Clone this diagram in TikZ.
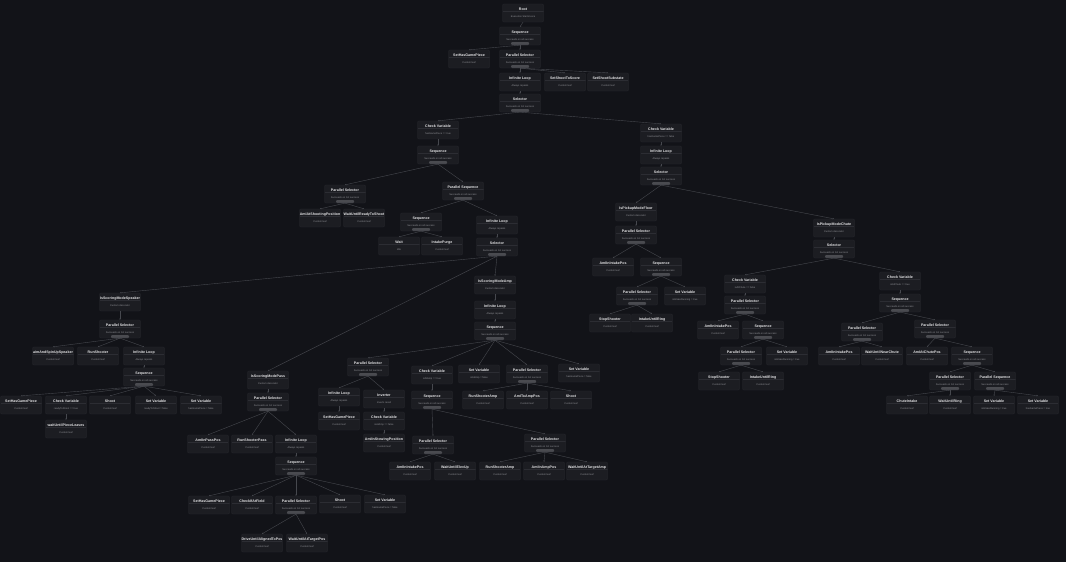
\documentclass[tikz,border=0pt]{standalone}
\usepackage{fontspec}
\setmainfont{Liberation Sans}
\usetikzlibrary{arrows.meta}
\definecolor{bgc}{HTML}{121318}
\definecolor{nodefill}{HTML}{1C1D22}
\definecolor{nodeline}{HTML}{2A2B31}
\definecolor{divc}{HTML}{2C2D33}
\definecolor{titlec}{HTML}{E4E4E6}
\definecolor{subc}{HTML}{8E8F94}
\definecolor{barc}{HTML}{4A4B50}
\definecolor{edgec}{HTML}{46484E}
\newcommand{\btsub}{\fontsize{2.5}{3}\selectfont\mdseries\color{subc}}
\tikzset{
  leaf/.style={draw=nodeline, fill=nodefill, rounded corners=1pt, line width=0.3pt,
    minimum width=41pt, minimum height=18pt, inner sep=0pt, align=center,
    text=titlec, font=\fontsize{3.6}{4}\selectfont\bfseries,
    path picture={\draw[divc, line width=0.3pt]
      ([yshift=-7.6pt]path picture bounding box.north west) -- ([yshift=-7.6pt]path picture bounding box.north east);}},
  comp/.style={leaf,
    path picture={\draw[divc, line width=0.3pt]
      ([yshift=-7.6pt]path picture bounding box.north west) -- ([yshift=-7.6pt]path picture bounding box.north east);
      \fill[barc] ([xshift=-9pt]path picture bounding box.south) rectangle ([xshift=9pt, yshift=3pt]path picture bounding box.south);}},
  edge/.style={draw=edgec, line width=0.4pt, -{Stealth[length=1.4pt, width=1.4pt]}}
}
\begin{document}
\begin{tikzpicture}[x=1pt, y=-1pt]
  \fill[bgc] (0,0) rectangle (1066,562);
  \useasboundingbox (0,0) rectangle (1066,562);

  % Root and top of the tree
  \node[leaf] (root) at (523,13) {Root\\[3pt]{\btsub Execution Starts Here}};
  \node[comp] (seqA) at (520,36) {Sequence\\[3pt]{\btsub Succeeds on all success}};
  \node[leaf] (setHasA) at (469,59) {SetHasGamePiece\\[3pt]{\btsub Custom leaf}};
  \node[comp] (parSelA) at (520,59) {Parallel Selector\\[3pt]{\btsub Succeeds on 1st success}};
  \node[leaf] (loopA) at (520,82) {Infinite Loop\\[3pt]{\btsub Always repeats}};
  \node[leaf] (setShootA) at (565,82) {SetShootToScore\\[3pt]{\btsub Custom leaf}};
  \node[leaf] (setSubA) at (608,82) {SetShootSubstate\\[3pt]{\btsub Custom leaf}};
  \node[comp] (selA) at (520,103) {Selector\\[3pt]{\btsub Succeeds on 1st success}};

  % Holding a game piece
  \node[leaf] (chkHave) at (438,130) {Check Variable\\[3pt]{\btsub hasGamePiece == true}};
  \node[comp] (seqHave) at (438,155) {Sequence\\[3pt]{\btsub Succeeds on all success}};
  \node[comp] (parSelShoot) at (345,194) {Parallel Selector\\[3pt]{\btsub Succeeds on 1st success}};
  \node[leaf] (aimShoot) at (320,218) {AmIAtShootingPosition\\[3pt]{\btsub Custom leaf}};
  \node[leaf] (waitShoot) at (364,218) {WaitUntilReadyToShoot\\[3pt]{\btsub Custom leaf}};
  \node[comp] (parSeqB) at (463,191) {Parallel Sequence\\[3pt]{\btsub Succeeds on all success}};
  \node[comp] (seqWait) at (421,222) {Sequence\\[3pt]{\btsub Succeeds on all success}};
  \node[leaf] (wait) at (399,246) {Wait\\[3pt]{\btsub Idle}};
  \node[leaf] (purge) at (442,246) {IntakePurge\\[3pt]{\btsub Custom leaf}};
  \node[leaf] (loopB) at (497,225) {Infinite Loop\\[3pt]{\btsub Always repeats}};
  \node[comp] (selB) at (497,247) {Selector\\[3pt]{\btsub Succeeds on 1st success}};

  % Scoring mode: speaker
  \node[leaf] (modeSpeaker) at (120,302) {IsScoringModeSpeaker\\[3pt]{\btsub Custom decorator}};
  \node[comp] (parSelSp) at (120,329) {Parallel Selector\\[3pt]{\btsub Succeeds on 1st success}};
  \node[leaf] (aimSp) at (53,356) {aimAndSpinUpSpeaker\\[3pt]{\btsub Custom leaf}};
  \node[leaf] (runSp) at (98,356) {RunShooter\\[3pt]{\btsub Custom leaf}};
  \node[leaf] (loopSp) at (144,356) {Infinite Loop\\[3pt]{\btsub Always repeats}};
  \node[comp] (seqSp) at (144,377) {Sequence\\[3pt]{\btsub Succeeds on all success}};
  \node[leaf] (setHasSp) at (21,405) {SetHasGamePiece\\[3pt]{\btsub Custom leaf}};
  \node[leaf] (chkSp) at (66,405) {Check Variable\\[3pt]{\btsub readyToShoot == true}};
  \node[leaf] (shootSp) at (110,405) {Shoot\\[3pt]{\btsub Custom leaf}};
  \node[leaf] (setVarSp1) at (156,405) {Set Variable\\[3pt]{\btsub readyToShoot = false}};
  \node[leaf] (setVarSp2) at (201,405) {Set Variable\\[3pt]{\btsub hasGamePiece = false}};
  \node[leaf] (waitSp) at (66,429) {waitUntilPieceLeaves\\[3pt]{\btsub Custom leaf}};

  % Scoring mode: pass
  \node[leaf] (modePass) at (268,380) {IsScoringModePass\\[3pt]{\btsub Custom decorator}};
  \node[comp] (parSelPass) at (268,402) {Parallel Selector\\[3pt]{\btsub Succeeds on 1st success}};
  \node[leaf] (passPos) at (208,444) {AmIInPassPos\\[3pt]{\btsub Custom leaf}};
  \node[leaf] (runPass) at (252,444) {RunShooterPass\\[3pt]{\btsub Custom leaf}};
  \node[leaf] (loopPass) at (296,444) {Infinite Loop\\[3pt]{\btsub Always repeats}};
  \node[comp] (seqPass) at (296,466) {Sequence\\[3pt]{\btsub Succeeds on all success}};
  \node[leaf] (setHasPass) at (209,505) {SetHasGamePiece\\[3pt]{\btsub Custom leaf}};
  \node[leaf] (chkField) at (252,505) {CheckIfAtField\\[3pt]{\btsub Custom leaf}};
  \node[comp] (parSelPass2) at (296,505) {Parallel Selector\\[3pt]{\btsub Succeeds on 1st success}};
  \node[leaf] (shootPass) at (340,504) {Shoot\\[3pt]{\btsub Custom leaf}};
  \node[leaf] (setVarPass) at (385,504) {Set Variable\\[3pt]{\btsub hasGamePiece = false}};
  \node[leaf] (driveAlign) at (262,543) {DriveUntilAlignedToPos\\[3pt]{\btsub Custom leaf}};
  \node[leaf] (waitTarget) at (307,543) {WaitUntilAtTargetPos\\[3pt]{\btsub Custom leaf}};

  % Scoring mode: amp
  \node[leaf] (modeAmp) at (495,285) {IsScoringModeAmp\\[3pt]{\btsub Custom decorator}};
  \node[leaf] (loopAmp) at (495,310) {Infinite Loop\\[3pt]{\btsub Always repeats}};
  \node[comp] (seqAmp) at (495,331) {Sequence\\[3pt]{\btsub Succeeds on all success}};
  \node[comp] (parSelAmp1) at (368,367) {Parallel Selector\\[3pt]{\btsub Succeeds on 1st success}};
  \node[leaf] (loopAmp2) at (339,397) {Infinite Loop\\[3pt]{\btsub Always repeats}};
  \node[leaf] (invAmp) at (384,399) {Inverter\\[3pt]{\btsub Inverts result}};
  \node[leaf] (setHasAmp) at (339,421) {SetHasGamePiece\\[3pt]{\btsub Custom leaf}};
  \node[leaf] (chkAmp1) at (384,421) {Check Variable\\[3pt]{\btsub isAtAmp == false}};
  \node[leaf] (stowAmp) at (384,443) {AmIInStowingPosition\\[3pt]{\btsub Custom leaf}};
  \node[leaf] (chkAmp2) at (432,375) {Check Variable\\[3pt]{\btsub isAtAmp == true}};
  \node[comp] (seqAmp2) at (432,400) {Sequence\\[3pt]{\btsub Succeeds on all success}};
  \node[comp] (parSelAmp2) at (433,445) {Parallel Selector\\[3pt]{\btsub Succeeds on 1st success}};
  \node[leaf] (intakePosAmp) at (410,471) {AmIInIntakePos\\[3pt]{\btsub Custom leaf}};
  \node[leaf] (waitElev) at (455,471) {WaitUntilElevUp\\[3pt]{\btsub Custom leaf}};
  \node[comp] (parSelAmp3) at (545,443) {Parallel Selector\\[3pt]{\btsub Succeeds on 1st success}};
  \node[leaf] (runAmp) at (500,471) {RunShooterAmp\\[3pt]{\btsub Custom leaf}};
  \node[leaf] (ampPos) at (544,471) {AmIInAmpPos\\[3pt]{\btsub Custom leaf}};
  \node[leaf] (waitAmp) at (587,471) {WaitUntilAtTargetAmp\\[3pt]{\btsub Custom leaf}};
  \node[leaf] (setVarAmp1) at (479,374) {Set Variable\\[3pt]{\btsub isAtAmp = false}};
  \node[comp] (parSelAmp4) at (527,374) {Parallel Selector\\[3pt]{\btsub Succeeds on 1st success}};
  \node[leaf] (runAmp2) at (483,400) {RunShooterAmp\\[3pt]{\btsub Custom leaf}};
  \node[leaf] (ampPos2) at (527,400) {AmIToAmpPos\\[3pt]{\btsub Custom leaf}};
  \node[leaf] (shootAmp) at (571,400) {Shoot\\[3pt]{\btsub Custom leaf}};
  \node[leaf] (setVarAmp2) at (579,373) {Set Variable\\[3pt]{\btsub hasGamePiece = false}};

  % No game piece: pickup
  \node[leaf] (chkNone) at (661,133) {Check Variable\\[3pt]{\btsub hasGamePiece == false}};
  \node[leaf] (loopC) at (661,155) {Infinite Loop\\[3pt]{\btsub Always repeats}};
  \node[comp] (selC) at (661,176) {Selector\\[3pt]{\btsub Succeeds on 1st success}};
  \node[leaf] (modeFloor) at (636,212) {IsPickupModeFloor\\[3pt]{\btsub Custom decorator}};
  \node[comp] (parSelFloor) at (636,235) {Parallel Selector\\[3pt]{\btsub Succeeds on 1st success}};
  \node[leaf] (intakePosF) at (613,267) {AmIInIntakePos\\[3pt]{\btsub Custom leaf}};
  \node[comp] (seqFloor) at (661,267) {Sequence\\[3pt]{\btsub Succeeds on all success}};
  \node[comp] (parSelF2) at (637,296) {Parallel Selector\\[3pt]{\btsub Succeeds on 1st success}};
  \node[leaf] (setVarF) at (685,296) {Set Variable\\[3pt]{\btsub isIntakeRunning = true}};
  \node[leaf] (stopF) at (610,323) {StopShooter\\[3pt]{\btsub Custom leaf}};
  \node[leaf] (intakeF) at (652,323) {IntakeUntilRing\\[3pt]{\btsub Custom leaf}};

  \node[leaf] (modeChute) at (834,228) {IsPickupModeChute\\[3pt]{\btsub Custom decorator}};
  \node[comp] (selChute) at (834,249) {Selector\\[3pt]{\btsub Succeeds on 1st success}};
  \node[leaf] (chkNotAt) at (745,284) {Check Variable\\[3pt]{\btsub isAtChute == false}};
  \node[comp] (parSelC1) at (745,305) {Parallel Selector\\[3pt]{\btsub Succeeds on 1st success}};
  \node[leaf] (intakePosC) at (718,330) {AmIInIntakePos\\[3pt]{\btsub Custom leaf}};
  \node[comp] (seqC1) at (763,330) {Sequence\\[3pt]{\btsub Succeeds on all success}};
  \node[comp] (parSelC2) at (741,356) {Parallel Selector\\[3pt]{\btsub Succeeds on 1st success}};
  \node[leaf] (setVarC) at (787,356) {Set Variable\\[3pt]{\btsub isIntakeRunning = true}};
  \node[leaf] (stopC) at (719,381) {StopShooter\\[3pt]{\btsub Custom leaf}};
  \node[leaf] (intakeC) at (763,381) {IntakeUntilRing\\[3pt]{\btsub Custom leaf}};
  \node[leaf] (chkAt) at (900,281) {Check Variable\\[3pt]{\btsub isAtChute == true}};
  \node[comp] (seqChute) at (900,303) {Sequence\\[3pt]{\btsub Succeeds on all success}};
  \node[comp] (parSelC3) at (862,332) {Parallel Selector\\[3pt]{\btsub Succeeds on 1st success}};
  \node[comp] (parSelC4) at (935,329) {Parallel Selector\\[3pt]{\btsub Succeeds on 1st success}};
  \node[leaf] (intakePosC2) at (839,356) {AmIInIntakePos\\[3pt]{\btsub Custom leaf}};
  \node[leaf] (waitChute) at (882,356) {WaitUntilNearChute\\[3pt]{\btsub Custom leaf}};
  \node[leaf] (chutePos) at (927,356) {AmIAtChutePos\\[3pt]{\btsub Custom leaf}};
  \node[comp] (seqC2) at (972,356) {Sequence\\[3pt]{\btsub Succeeds on all success}};
  \node[comp] (parSelC5) at (950,381) {Parallel Selector\\[3pt]{\btsub Succeeds on 1st success}};
  \node[comp] (parSeqC) at (995,381) {Parallel Sequence\\[3pt]{\btsub Succeeds on all success}};
  \node[leaf] (chuteIntake) at (907,405) {ChuteIntake\\[3pt]{\btsub Custom leaf}};
  \node[leaf] (waitRing) at (950,405) {WaitUntilRing\\[3pt]{\btsub Custom leaf}};
  \node[leaf] (setVarC2) at (994,405) {Set Variable\\[3pt]{\btsub isIntakeRunning = true}};
  \node[leaf] (setVarC3) at (1038,405) {Set Variable\\[3pt]{\btsub hasGamePiece = true}};

  % Connectors
  \draw[edge] (root.south) -- (seqA.north);
  \draw[edge] (seqA.south) -- (setHasA.north);
  \draw[edge] (seqA.south) -- (parSelA.north);
  \draw[edge] (parSelA.south) -- (loopA.north);
  \draw[edge] (parSelA.south) -- (setShootA.north);
  \draw[edge] (parSelA.south) -- (setSubA.north);
  \draw[edge] (loopA.south) -- (selA.north);
  \draw[edge] (selA.south) -- (chkHave.north);
  \draw[edge] (selA.south) -- (chkNone.north);

  \draw[edge] (chkHave.south) -- (seqHave.north);
  \draw[edge] (seqHave.south) -- (parSelShoot.north);
  \draw[edge] (seqHave.south) -- (parSeqB.north);
  \draw[edge] (parSelShoot.south) -- (aimShoot.north);
  \draw[edge] (parSelShoot.south) -- (waitShoot.north);
  \draw[edge] (parSeqB.south) -- (seqWait.north);
  \draw[edge] (parSeqB.south) -- (loopB.north);
  \draw[edge] (seqWait.south) -- (wait.north);
  \draw[edge] (seqWait.south) -- (purge.north);
  \draw[edge] (loopB.south) -- (selB.north);
  \draw[edge] (selB.south) -- (modeSpeaker.north);
  \draw[edge] (selB.south) -- (modeAmp.north);
  \draw[edge] (selB.south) -- (modePass.north);

  \draw[edge] (modeSpeaker.south) -- (parSelSp.north);
  \draw[edge] (parSelSp.south) -- (aimSp.north);
  \draw[edge] (parSelSp.south) -- (runSp.north);
  \draw[edge] (parSelSp.south) -- (loopSp.north);
  \draw[edge] (loopSp.south) -- (seqSp.north);
  \draw[edge] (seqSp.south) -- (setHasSp.north);
  \draw[edge] (seqSp.south) -- (chkSp.north);
  \draw[edge] (seqSp.south) -- (shootSp.north);
  \draw[edge] (seqSp.south) -- (setVarSp1.north);
  \draw[edge] (seqSp.south) -- (setVarSp2.north);
  \draw[edge] (chkSp.south) -- (waitSp.north);

  \draw[edge] (modePass.south) -- (parSelPass.north);
  \draw[edge] (parSelPass.south) -- (passPos.north);
  \draw[edge] (parSelPass.south) -- (runPass.north);
  \draw[edge] (parSelPass.south) -- (loopPass.north);
  \draw[edge] (loopPass.south) -- (seqPass.north);
  \draw[edge] (seqPass.south) -- (setHasPass.north);
  \draw[edge] (seqPass.south) -- (chkField.north);
  \draw[edge] (seqPass.south) -- (parSelPass2.north);
  \draw[edge] (seqPass.south) -- (shootPass.north);
  \draw[edge] (seqPass.south) -- (setVarPass.north);
  \draw[edge] (parSelPass2.south) -- (driveAlign.north);
  \draw[edge] (parSelPass2.south) -- (waitTarget.north);

  \draw[edge] (modeAmp.south) -- (loopAmp.north);
  \draw[edge] (loopAmp.south) -- (seqAmp.north);
  \draw[edge] (seqAmp.south) -- (parSelAmp1.north);
  \draw[edge] (seqAmp.south) -- (chkAmp2.north);
  \draw[edge] (seqAmp.south) -- (setVarAmp1.north);
  \draw[edge] (seqAmp.south) -- (parSelAmp4.north);
  \draw[edge] (seqAmp.south) -- (setVarAmp2.north);
  \draw[edge] (parSelAmp1.south) -- (loopAmp2.north);
  \draw[edge] (parSelAmp1.south) -- (invAmp.north);
  \draw[edge] (loopAmp2.south) -- (setHasAmp.north);
  \draw[edge] (invAmp.south) -- (chkAmp1.north);
  \draw[edge] (chkAmp1.south) -- (stowAmp.north);
  \draw[edge] (chkAmp2.south) -- (seqAmp2.north);
  \draw[edge] (seqAmp2.south) -- (parSelAmp2.north);
  \draw[edge] (seqAmp2.south) -- (parSelAmp3.north);
  \draw[edge] (parSelAmp2.south) -- (intakePosAmp.north);
  \draw[edge] (parSelAmp2.south) -- (waitElev.north);
  \draw[edge] (parSelAmp3.south) -- (runAmp.north);
  \draw[edge] (parSelAmp3.south) -- (ampPos.north);
  \draw[edge] (parSelAmp3.south) -- (waitAmp.north);
  \draw[edge] (parSelAmp4.south) -- (runAmp2.north);
  \draw[edge] (parSelAmp4.south) -- (ampPos2.north);
  \draw[edge] (parSelAmp4.south) -- (shootAmp.north);

  \draw[edge] (chkNone.south) -- (loopC.north);
  \draw[edge] (loopC.south) -- (selC.north);
  \draw[edge] (selC.south) -- (modeFloor.north);
  \draw[edge] (selC.south) -- (modeChute.north);
  \draw[edge] (modeFloor.south) -- (parSelFloor.north);
  \draw[edge] (parSelFloor.south) -- (intakePosF.north);
  \draw[edge] (parSelFloor.south) -- (seqFloor.north);
  \draw[edge] (seqFloor.south) -- (parSelF2.north);
  \draw[edge] (seqFloor.south) -- (setVarF.north);
  \draw[edge] (parSelF2.south) -- (stopF.north);
  \draw[edge] (parSelF2.south) -- (intakeF.north);

  \draw[edge] (modeChute.south) -- (selChute.north);
  \draw[edge] (selChute.south) -- (chkNotAt.north);
  \draw[edge] (selChute.south) -- (chkAt.north);
  \draw[edge] (chkNotAt.south) -- (parSelC1.north);
  \draw[edge] (parSelC1.south) -- (intakePosC.north);
  \draw[edge] (parSelC1.south) -- (seqC1.north);
  \draw[edge] (seqC1.south) -- (parSelC2.north);
  \draw[edge] (seqC1.south) -- (setVarC.north);
  \draw[edge] (parSelC2.south) -- (stopC.north);
  \draw[edge] (parSelC2.south) -- (intakeC.north);
  \draw[edge] (chkAt.south) -- (seqChute.north);
  \draw[edge] (seqChute.south) -- (parSelC3.north);
  \draw[edge] (seqChute.south) -- (parSelC4.north);
  \draw[edge] (parSelC3.south) -- (intakePosC2.north);
  \draw[edge] (parSelC3.south) -- (waitChute.north);
  \draw[edge] (parSelC4.south) -- (chutePos.north);
  \draw[edge] (parSelC4.south) -- (seqC2.north);
  \draw[edge] (seqC2.south) -- (parSelC5.north);
  \draw[edge] (seqC2.south) -- (parSeqC.north);
  \draw[edge] (parSelC5.south) -- (chuteIntake.north);
  \draw[edge] (parSelC5.south) -- (waitRing.north);
  \draw[edge] (parSeqC.south) -- (setVarC2.north);
  \draw[edge] (parSeqC.south) -- (setVarC3.north);
\end{tikzpicture}
\end{document}
